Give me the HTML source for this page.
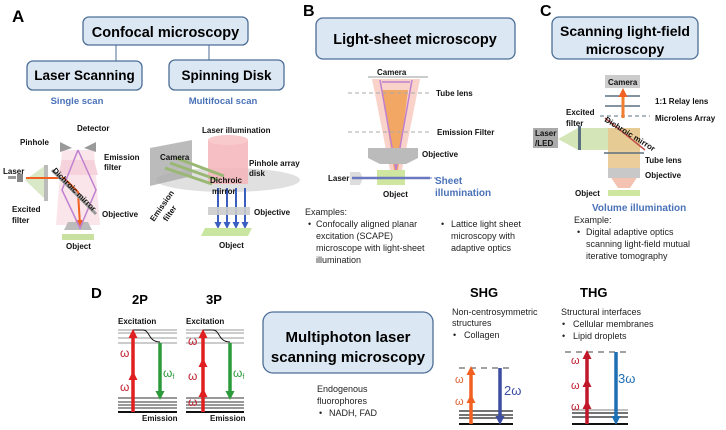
<!DOCTYPE html>
<html><head><meta charset="utf-8"><style>
html,body{margin:0;padding:0;background:#fff}
svg{display:block}
text{font-family:"Liberation Sans",Arial,sans-serif}
.b{font-weight:bold}
.s{font-size:8px;font-weight:bold;fill:#111}
.n{font-size:9px;fill:#222}
.bl{fill:#4a72b8;font-weight:bold}
.box{fill:#dbe7f3;stroke:#4c6e96;stroke-width:1.3}
</style></head><body>
<svg width="726" height="430" viewBox="0 0 726 430" xmlns="http://www.w3.org/2000/svg">
<defs>
<marker id="ar" markerUnits="userSpaceOnUse" markerWidth="9" markerHeight="9" refX="5" refY="4.5" orient="auto"><path d="M0,0L9,4.5L0,9z" fill="#e02020"/></marker>
<marker id="ag" markerUnits="userSpaceOnUse" markerWidth="9" markerHeight="9" refX="5" refY="4.5" orient="auto"><path d="M0,0L9,4.5L0,9z" fill="#2a9a3a"/></marker>
<marker id="ao" markerUnits="userSpaceOnUse" markerWidth="9" markerHeight="9" refX="5" refY="4.5" orient="auto"><path d="M0,0L9,4.5L0,9z" fill="#f06020"/></marker>
<marker id="ab" markerUnits="userSpaceOnUse" markerWidth="9" markerHeight="9" refX="5" refY="4.5" orient="auto"><path d="M0,0L9,4.5L0,9z" fill="#3d4da0"/></marker>
<marker id="ab2" markerUnits="userSpaceOnUse" markerWidth="9" markerHeight="9" refX="5" refY="4.5" orient="auto"><path d="M0,0L9,4.5L0,9z" fill="#1f6fb5"/></marker>
<marker id="ad" markerUnits="userSpaceOnUse" markerWidth="9" markerHeight="9" refX="5" refY="4.5" orient="auto"><path d="M0,0L9,4.5L0,9z" fill="#c0182a"/></marker>
<marker id="abl" markerUnits="userSpaceOnUse" markerWidth="7" markerHeight="7" refX="4" refY="3.5" orient="auto"><path d="M0,0L7,3.5L0,7z" fill="#3a5fc0"/></marker>
</defs>

<!-- Panel A -->
<text x="12" y="22" class="b" font-size="17">A</text>
<line x1="116" y1="45" x2="116" y2="61" stroke="#4c6e96"/>
<line x1="209" y1="45" x2="209" y2="60" stroke="#4c6e96"/>
<rect x="83" y="17" width="165" height="28" rx="6" class="box"/>
<text x="165.5" y="37" text-anchor="middle" class="b" font-size="14.5">Confocal microscopy</text>
<rect x="27" y="61" width="115" height="29" rx="6" class="box"/>
<text x="84.5" y="80" text-anchor="middle" class="b" font-size="13.5">Laser Scanning</text>
<rect x="169" y="60" width="115" height="30" rx="6" class="box"/>
<text x="226.5" y="80" text-anchor="middle" class="b" font-size="13.5">Spinning Disk</text>
<text x="77" y="104" text-anchor="middle" class="bl" font-size="9.5">Single scan</text>
<text x="223" y="104" text-anchor="middle" class="bl" font-size="9.5">Multifocal scan</text>

<polygon points="62,160 94,160 98,175 58,175" fill="#f4c7d3" opacity="0.8"/>
<polygon points="62,150 94,150 100,225 56,225" fill="#f6d3dc" opacity="0.6"/>
<path d="M60,142 L72,148 L84,148 L96,142 L96,152 L84,148 L72,148 L60,152 z" fill="#999"/>
<polygon points="64,230 92,230 88,222 68,222" fill="#bbb"/>
<polygon points="25,180 46,165 46,200" fill="#cfe2b8" opacity="0.8"/>
<rect x="44" y="165" width="4" height="36" fill="#bbb"/>
<rect x="8" y="176" width="8" height="3" fill="#999"/><rect x="17" y="174" width="6" height="8" fill="#888"/>
<line x1="26" y1="178" x2="64" y2="178" stroke="#f06020" stroke-width="2"/>
<path d="M64,178 L78,192 L80,225" stroke="#f06020" stroke-width="2" fill="none" marker-end="url(#ao)"/>
<path d="M78,150 L62,190 L80,228 L96,190 L78,150" stroke="#c080d0" stroke-width="1.5" fill="none"/>
<line x1="52" y1="170" x2="96" y2="214" stroke="#999" stroke-width="3"/>
<rect x="62" y="234" width="32" height="6" fill="#c8e0a0"/>
<text x="77" y="131" class="s">Detector</text>
<text x="20" y="145" class="s">Pinhole</text>
<text x="104" y="160" class="s">Emission</text><text x="104" y="170" class="s">filter</text>
<text x="3" y="174" class="s">Laser</text>
<text x="12" y="212" class="s">Excited</text><text x="12" y="223" class="s">filter</text>
<text x="102" y="217" class="s">Objective</text>
<text x="66" y="249" class="s">Object</text>
<text x="52" y="171" class="s" transform="rotate(45 52 171)">Dichroic mirror</text>

<ellipse cx="228" cy="180" rx="72" ry="12" fill="#d8d8d8" opacity="0.8"/>
<rect x="208" y="140" width="40" height="44" fill="#f4b4b8" opacity="0.85"/>
<ellipse cx="228" cy="140" rx="20" ry="5" fill="#f8cacc"/>
<polygon points="150,148 192,140 192,176 150,186" fill="#aaa" opacity="0.8"/>
<g stroke="#9ab874" stroke-width="3"><line x1="165" y1="168" x2="212" y2="184"/><line x1="170" y1="163" x2="218" y2="180"/><line x1="176" y1="158" x2="224" y2="176"/></g>
<g stroke="#3a5fc0" stroke-width="2" marker-end="url(#abl)"><line x1="218" y1="188" x2="218" y2="226"/><line x1="227" y1="188" x2="227" y2="226"/><line x1="236" y1="188" x2="236" y2="226"/><line x1="245" y1="188" x2="245" y2="226"/></g>
<rect x="208" y="207" width="42" height="8" fill="#ccc" opacity="0.9"/>
<polygon points="205,228 252,228 248,236 201,236" fill="#c8e6a0"/>
<text x="202" y="133" class="s">Laser illumination</text>
<text x="160" y="160" class="s">Camera</text>
<text x="249" y="166" class="s">Pinhole array</text><text x="249" y="176" class="s">disk</text>
<text x="210" y="183" class="s">Dichroic</text><text x="212" y="194" class="s">mirror</text>
<text x="154" y="222" class="s" transform="rotate(-55 154 222)">Emission</text>
<text x="167" y="222" class="s" transform="rotate(-55 167 222)">filter</text>
<text x="254" y="215" class="s">Objective</text>
<text x="219" y="248" class="s">Object</text>

<!-- Panel B -->
<text x="303" y="16" class="b" font-size="16">B</text>
<rect x="316" y="18" width="199" height="41" rx="7" class="box"/>
<text x="415" y="44" text-anchor="middle" class="b" font-size="14.5">Light-sheet microscopy</text>
<polygon points="372,79 420,79 402,170 390,170" fill="#f7c4b8" opacity="0.75"/>
<polygon points="382,90 408,90 398,170 394,170" fill="#f2a25a" opacity="0.9"/>
<path d="M396,170 L380,80 M396,170 L412,80 M382,82 L410,82" stroke="#c080d0" stroke-width="1.5" fill="none"/>
<line x1="368" y1="77" x2="428" y2="77" stroke="#999"/>
<line x1="348" y1="93" x2="432" y2="93" stroke="#aaa" stroke-dasharray="4,3"/>
<line x1="348" y1="132" x2="432" y2="132" stroke="#aaa" stroke-dasharray="4,3"/>
<polygon points="368,148 418,148 418,158 406,164 380,164 368,158" fill="#bbb"/>
<rect x="377" y="170" width="28" height="15" fill="#cfe6a0"/>
<polygon points="350,172 360,172 362,176 362,181 360,185 350,185" fill="#ddd"/>
<line x1="352" y1="178" x2="430" y2="178" stroke="#6a78c0" stroke-width="2.5"/>
<line x1="430" y1="178" x2="436" y2="178" stroke="#6a78c0" stroke-dasharray="2,2"/>
<text x="377" y="75" class="s">Camera</text>
<text x="436" y="96" class="s">Tube lens</text>
<text x="437" y="135" class="s">Emission Filter</text>
<text x="422" y="157" class="s">Objective</text>
<text x="328" y="181" class="s">Laser</text>
<text x="383" y="197" class="s">Object</text>
<text x="435" y="184" class="bl" font-size="10">Sheet</text>
<text x="435" y="196" class="bl" font-size="10">illumination</text>
<text x="305" y="215" class="n">Examples:</text>
<text x="308" y="227" class="n">•</text><text x="316" y="227" class="n">Confocally aligned planar</text>
<text x="316" y="239" class="n">excitation (SCAPE)</text>
<text x="316" y="251" class="n">microscope with light-sheet</text>
<text x="316" y="263" class="n">illumination</text>
<text x="441" y="227" class="n">•</text><text x="451" y="227" class="n">Lattice light sheet</text>
<text x="451" y="239" class="n">microscopy with</text>
<text x="451" y="251" class="n">adaptive optics</text>

<!-- Panel C -->
<text x="540" y="16" class="b" font-size="16">C</text>
<rect x="552" y="17" width="146" height="42" rx="7" class="box"/>
<text x="625" y="36" text-anchor="middle" class="b" font-size="14">Scanning light-field</text>
<text x="625" y="54" text-anchor="middle" class="b" font-size="14">microscopy</text>
<rect x="605" y="75" width="35" height="13" fill="#ccc"/>
<text x="608" y="85" class="s">Camera</text>
<line x1="605" y1="96" x2="640" y2="96" stroke="#5a7080" stroke-width="1.5"/>
<line x1="605" y1="106" x2="640" y2="106" stroke="#5a7080" stroke-width="1.5"/>
<line x1="600" y1="116" x2="650" y2="116" stroke="#5a7080" stroke-dasharray="4,3"/>
<line x1="623" y1="118" x2="623" y2="92" stroke="#f08030" stroke-width="3" marker-end="url(#ao)"/>
<polygon points="558,139 578,128 640,128 640,150 578,150" fill="#cfe3b0" opacity="0.9"/>
<rect x="608" y="128" width="32" height="45" fill="#e8c890" opacity="0.9"/>
<polygon points="608,173 640,173 630,188 618,188" fill="#f4c2b0"/>
<rect x="608" y="168" width="32" height="10" fill="#c8c8c8"/>
<line x1="604" y1="153" x2="644" y2="153" stroke="#5a7080" stroke-width="1.5"/>
<rect x="578" y="126" width="3" height="24" fill="#5a7080"/>
<line x1="605" y1="118" x2="645" y2="150" stroke="#c05048" stroke-width="1.5"/>
<rect x="533" y="128" width="25" height="20" fill="#aaa"/>
<text x="535" y="136" class="s">Laser</text><text x="535" y="146" class="s">/LED</text>
<rect x="608" y="190" width="32" height="6" fill="#cfe6a0"/>
<text x="566" y="115" class="s">Excited</text><text x="566" y="126" class="s">filter</text>
<text x="655" y="104" class="s">1:1 Relay lens</text>
<text x="655" y="121" class="s">Microlens Array</text>
<text x="604" y="121" class="s" transform="rotate(32 604 121)">Dichroic mirror</text>
<text x="645" y="163" class="s">Tube lens</text>
<text x="645" y="178" class="s">Objective</text>
<text x="575" y="196" class="s">Object</text>
<text x="592" y="211" class="bl" font-size="10">Volume illumination</text>
<text x="574" y="223" class="n">Example:</text>
<text x="577" y="235" class="n">•</text><text x="586" y="235" class="n">Digital adaptive optics</text>
<text x="586" y="247" class="n">scanning light-field mutual</text>
<text x="586" y="259" class="n">iterative tomography</text>

<!-- Panel D -->
<text x="91" y="298" class="b" font-size="15">D</text>
<text x="132" y="304" class="b" font-size="13">2P</text>
<text x="206" y="304" class="b" font-size="13">3P</text>
<g stroke="#999" stroke-width="0.9">
<line x1="118" y1="330" x2="177" y2="330"/><line x1="118" y1="333" x2="177" y2="333"/><line x1="118" y1="338" x2="177" y2="338"/><line x1="118" y1="343" x2="177" y2="343"/>
<line x1="186" y1="330" x2="244" y2="330"/><line x1="186" y1="333" x2="244" y2="333"/><line x1="186" y1="338" x2="244" y2="338"/><line x1="186" y1="343" x2="244" y2="343"/>
</g>
<g stroke="#333" stroke-width="1.1">
<line x1="118" y1="398" x2="177" y2="398"/><line x1="118" y1="402" x2="177" y2="402"/><line x1="118" y1="405" x2="177" y2="405"/><line x1="118" y1="408" x2="177" y2="408"/>
<line x1="186" y1="398" x2="244" y2="398"/><line x1="186" y1="402" x2="244" y2="402"/><line x1="186" y1="405" x2="244" y2="405"/><line x1="186" y1="408" x2="244" y2="408"/>
</g>
<line x1="118" y1="412" x2="177" y2="412" stroke="#111" stroke-width="2"/>
<line x1="186" y1="412" x2="244" y2="412" stroke="#111" stroke-width="2"/>
<path d="M133,330 L143,330 C150,330 148,342 160,342" stroke="#111" fill="none"/>
<path d="M203,330 L213,330 C220,330 218,342 230,342" stroke="#111" fill="none"/>
<g stroke="#e02020" stroke-width="3.5">
<line x1="133" y1="412" x2="133" y2="375" marker-end="url(#ar)"/><line x1="133" y1="375" x2="133" y2="333" marker-end="url(#ar)"/>
<line x1="203" y1="412" x2="203" y2="392" marker-end="url(#ar)"/><line x1="203" y1="392" x2="203" y2="362" marker-end="url(#ar)"/><line x1="203" y1="362" x2="203" y2="333" marker-end="url(#ar)"/>
</g>
<g stroke="#2a9a3a" stroke-width="3.5">
<line x1="160" y1="343" x2="160" y2="396" marker-end="url(#ag)"/><line x1="230" y1="343" x2="230" y2="396" marker-end="url(#ag)"/>
</g>
<g fill="#c02030" font-size="12"><text x="120" y="357">ω</text><text x="120" y="391">ω</text><text x="188" y="345">ω</text><text x="188" y="380">ω</text><text x="188" y="406">ω</text></g>
<g fill="#2a9a3a" font-size="12"><text x="163" y="377">ω<tspan font-size="7" dy="2">f</tspan></text><text x="233" y="377">ω<tspan font-size="7" dy="2">f</tspan></text></g>
<text x="118" y="324" class="s">Excitation</text>
<text x="186" y="324" class="s">Excitation</text>
<text x="142" y="421" class="s">Emission</text>
<text x="210" y="421" class="s">Emission</text>

<rect x="263" y="312" width="170" height="61" rx="10" class="box"/>
<text x="348" y="342" text-anchor="middle" class="b" font-size="15">Multiphoton laser</text>
<text x="348" y="362" text-anchor="middle" class="b" font-size="15">scanning microscopy</text>
<text x="317" y="392" class="n" font-size="8.5">Endogenous</text>
<text x="317" y="404" class="n" font-size="8.5">fluorophores</text>
<text x="319" y="416" class="n" font-size="8.5">•</text><text x="329" y="416" class="n" font-size="8.5">NADH, FAD</text>

<text x="470" y="297" class="b" font-size="13">SHG</text>
<text x="580" y="297" class="b" font-size="13">THG</text>
<text x="452" y="315" class="n" font-size="8.5">Non-centrosymmetric</text>
<text x="452" y="326" class="n" font-size="8.5">structures</text>
<text x="453" y="338" class="n" font-size="8.5">•</text><text x="464" y="338" class="n" font-size="8.5">Collagen</text>
<text x="561" y="315" class="n" font-size="8.5">Structural interfaces</text>
<text x="562" y="327" class="n" font-size="8.5">•</text><text x="573" y="327" class="n" font-size="8.5">Cellular membranes</text>
<text x="562" y="339" class="n" font-size="8.5">•</text><text x="573" y="339" class="n" font-size="8.5">Lipid droplets</text>

<line x1="459" y1="368" x2="514" y2="368" stroke="#444" stroke-dasharray="6,5"/>
<g stroke="#222" stroke-width="1.2"><line x1="459" y1="411" x2="513" y2="411"/><line x1="459" y1="415" x2="513" y2="415"/><line x1="459" y1="418" x2="513" y2="418"/></g>
<line x1="459" y1="424" x2="513" y2="424" stroke="#111" stroke-width="2"/>
<g stroke="#f06020" stroke-width="3.5"><line x1="471" y1="424" x2="471" y2="398" marker-end="url(#ao)"/><line x1="471" y1="398" x2="471" y2="370" marker-end="url(#ao)"/></g>
<line x1="500" y1="368" x2="500" y2="421" stroke="#3d4da0" stroke-width="3.5" marker-end="url(#ab)"/>
<g fill="#e06030" font-size="11"><text x="455" y="383">ω</text><text x="455" y="405">ω</text></g>
<text x="504" y="395" fill="#3d4da0" font-size="13">2ω</text>

<line x1="565" y1="352" x2="629" y2="352" stroke="#444" stroke-dasharray="6,5"/>
<g stroke="#222" stroke-width="1.2"><line x1="572" y1="410" x2="628" y2="410" stroke="#999"/><line x1="572" y1="413" x2="628" y2="413"/><line x1="572" y1="417" x2="628" y2="417"/></g>
<line x1="572" y1="424" x2="628" y2="424" stroke="#111" stroke-width="2"/>
<g stroke="#c0182a" stroke-width="3.5"><line x1="587" y1="424" x2="587" y2="404" marker-end="url(#ad)"/><line x1="587" y1="404" x2="587" y2="382" marker-end="url(#ad)"/><line x1="587" y1="382" x2="587" y2="354" marker-end="url(#ad)"/></g>
<line x1="616" y1="352" x2="616" y2="421" stroke="#1f6fb5" stroke-width="3.5" marker-end="url(#ab2)"/>
<g fill="#c0182a" font-size="11"><text x="571" y="364">ω</text><text x="571" y="389">ω</text><text x="571" y="410">ω</text></g>
<text x="618" y="383" fill="#1f6fb5" font-size="13">3ω</text>
</svg>
</body></html>
